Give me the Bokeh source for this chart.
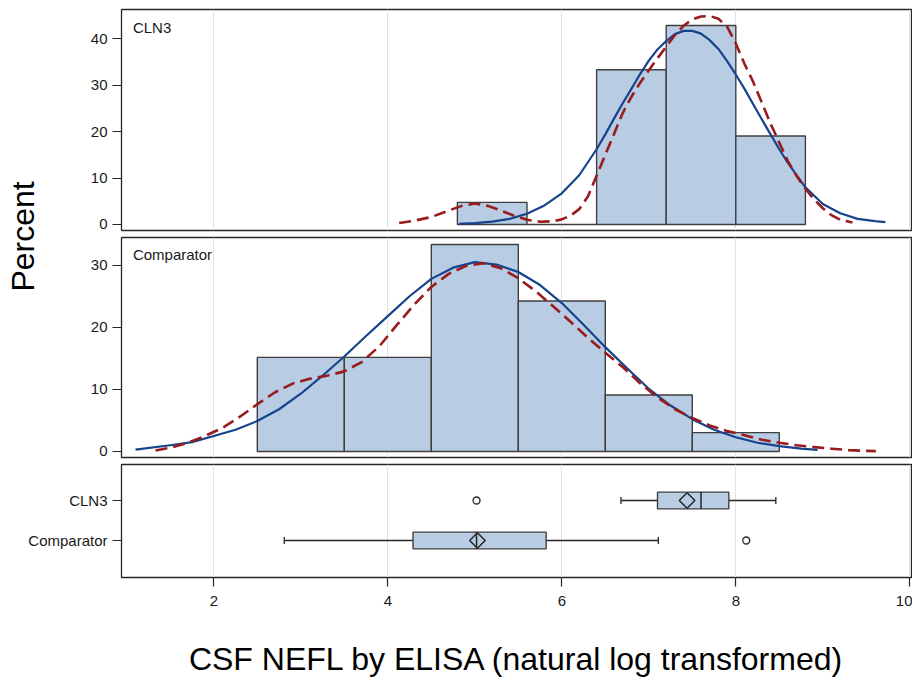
import math
from bokeh.plotting import figure
from bokeh.models import Range1d, FixedTicker, Label
from bokeh.layouts import column, row
from bokeh.embed import file_html
from bokeh.resources import INLINE

# ---------------- data ----------------
x_ticks = [2, 4, 6, 8, 10]

cln3_bin_left = [4.8, 5.6, 6.4, 7.2, 8.0]
cln3_bin_right = [5.6, 6.4, 7.2, 8.0, 8.8]
cln3_pct = [4.76, 0.0, 33.33, 42.86, 19.05]

comp_bin_left = [2.5, 3.5, 4.5, 5.5, 6.5, 7.5]
comp_bin_right = [3.5, 4.5, 5.5, 6.5, 7.5, 8.5]
comp_pct = [15.15, 15.15, 33.33, 24.24, 9.09, 3.03]

# normal fit (solid) and kernel density (dashed)
cln3_norm_x = [4.82, 5.0, 5.2, 5.4, 5.6, 5.8, 6.0, 6.2, 6.4, 6.5, 6.6, 6.7, 6.8, 6.9,
               7.0, 7.1, 7.2, 7.3, 7.4, 7.5, 7.6, 7.7, 7.8, 7.9, 8.0, 8.1, 8.2, 8.3,
               8.4, 8.5, 8.6, 8.8, 9.0, 9.2, 9.4, 9.6, 9.72]
cln3_norm_y = [0.15, 0.3, 0.6, 1.2, 2.3, 4.1, 6.7, 10.6, 16.2, 19.4, 22.8, 26.1, 29.2, 32.4,
               35.3, 37.7, 39.5, 41.0, 41.7, 41.7, 41.1, 39.7, 37.8, 35.2, 32.3, 29.2, 25.9, 22.6,
               19.4, 16.2, 13.2, 8.0, 4.4, 2.4, 1.2, 0.7, 0.5]
cln3_kde_x = [4.13, 4.3, 4.5, 4.7, 4.85, 5.0, 5.15, 5.3, 5.45, 5.6, 5.75, 5.9, 6.0, 6.1,
              6.2, 6.3, 6.4, 6.5, 6.6, 6.7, 6.8, 6.9, 7.0, 7.1, 7.2, 7.3, 7.4, 7.5, 7.6,
              7.7, 7.8, 7.9, 8.0, 8.1, 8.2, 8.3, 8.4, 8.5, 8.6, 8.7, 8.8, 8.9, 9.0, 9.1,
              9.2, 9.34]
cln3_kde_y = [0.3, 0.8, 1.6, 3.0, 4.0, 4.5, 4.0, 3.0, 1.9, 1.0, 0.6, 0.7, 1.1, 1.9,
              3.3, 6.0, 10.5, 15.0, 19.5, 24.0, 27.5, 30.5, 33.2, 35.8, 38.3, 40.8, 42.8,
              44.2, 44.8, 44.9, 44.3, 42.6, 39.0, 34.6, 30.7, 26.2, 21.7, 17.6, 13.6, 10.4,
              7.7, 5.4, 3.5, 2.0, 1.0, 0.4]

comp_norm_x = [1.10, 1.5, 1.75, 2.0, 2.25, 2.5, 2.75, 3.0, 3.25, 3.5, 3.75, 4.0, 4.25,
               4.5, 4.75, 5.0, 5.25, 5.5, 5.75, 6.0, 6.25, 6.5, 6.75, 7.0, 7.25, 7.5,
               7.75, 8.0, 8.25, 8.5, 8.75, 8.94]
comp_norm_y = [0.3, 1.0, 1.5, 2.5, 3.5, 4.9, 6.8, 9.3, 12.2, 15.3, 18.6, 21.8, 25.0,
               27.8, 29.6, 30.5, 30.1, 28.9, 26.8, 23.9, 20.4, 16.8, 13.4, 10.1, 7.4, 5.2,
               3.5, 2.3, 1.4, 0.85, 0.45, 0.27]
comp_kde_x = [1.33, 1.5, 1.7, 1.9, 2.1, 2.3, 2.5, 2.7, 2.9, 3.1, 3.3, 3.5, 3.7, 3.9,
              4.1, 4.3, 4.5, 4.7, 4.9, 5.1, 5.3, 5.5, 5.7, 5.9, 6.1, 6.3, 6.5, 6.7, 6.9,
              7.1, 7.3, 7.5, 7.7, 7.9, 8.1, 8.3, 8.5, 8.7, 8.9, 9.1, 9.3, 9.45, 9.61]
comp_kde_y = [0.16, 0.6, 1.4, 2.5, 3.8, 5.6, 7.6, 9.5, 10.9, 11.7, 12.2, 12.9, 14.4, 16.9,
              20.3, 23.6, 26.5, 28.6, 29.9, 30.3, 29.5, 27.9, 25.8, 23.4, 20.9, 18.3, 15.9,
              13.6, 11.0, 8.7, 6.8, 5.4, 4.2, 3.3, 2.6, 1.9, 1.4, 1.0, 0.7, 0.45, 0.22,
              0.12, 0.05]

# box plot statistics
groups = ["Comparator", "CLN3"]
box_q1 = [4.29, 7.10]
box_median = [5.02, 7.60]
box_q3 = [5.82, 7.92]
box_mean = [5.03, 7.44]
whisker_low = [2.81, 6.68]
whisker_high = [7.11, 8.46]
outlier_x = [8.12, 5.02]
outlier_group = ["Comparator", "CLN3"]

# ---------------- style ----------------
FONT = "Liberation Sans"
GRID = "#e2e2e2"
FILL = "#b8cce4"
EDGE = "#3f3f3f"
BLUE = "#16438c"
RED = "#981b1e"
FRAME = "#262626"
TXT = "#1a1a1a"

XR = Range1d(0.939, 10.031)


def style(p, yticks):
    p.outline_line_color = FRAME
    p.outline_line_width = 1.3
    p.ygrid.visible = False
    p.xgrid.ticker = FixedTicker(ticks=x_ticks)
    p.xgrid.grid_line_color = GRID
    p.xgrid.grid_line_width = 1
    for ax in p.yaxis:
        ax.ticker = FixedTicker(ticks=yticks)
        ax.axis_line_color = None
        ax.major_tick_out = 9
        ax.major_tick_in = 0
        ax.minor_tick_line_color = None
        ax.major_tick_line_color = FRAME
        ax.major_tick_line_width = 1.2
        ax.major_label_text_font = FONT
        ax.major_label_text_font_size = "15px"
        ax.major_label_text_color = TXT
        ax.major_label_standoff = 5


def curves(p, nx, ny, kx, ky):
    p.line(nx, ny, line_color=BLUE, line_width=2.2, line_join="round")
    p.line(kx, ky, line_color=RED, line_width=2.6, line_dash="12 6", line_join="round")


# ---- top panel: CLN3 histogram ----
f1 = figure(width=872, height=233, x_range=XR, y_range=Range1d(-1.3, 46.3),
            x_axis_location=None, toolbar_location=None, output_backend="svg",
            min_border_left=81, min_border_right=0, min_border_top=9, min_border_bottom=3)
style(f1, [0, 10, 20, 30, 40])
f1.quad(left=cln3_bin_left, right=cln3_bin_right, bottom=0, top=cln3_pct,
        fill_color=FILL, line_color=EDGE, line_width=1.4)
curves(f1, cln3_norm_x, cln3_norm_y, cln3_kde_x, cln3_kde_y)
f1.add_layout(Label(x=1.07, y=42.5, text="CLN3", text_font=FONT, text_font_size="15px",
                    text_baseline="middle", text_color=TXT))

# ---- middle panel: Comparator histogram ----
f2 = figure(width=872, height=227, x_range=XR, y_range=Range1d(-0.97, 34.46),
            x_axis_location=None, toolbar_location=None, output_backend="svg",
            min_border_left=81, min_border_right=0, min_border_top=4, min_border_bottom=3)
style(f2, [0, 10, 20, 30])
f2.quad(left=comp_bin_left, right=comp_bin_right, bottom=0, top=comp_pct,
        fill_color=FILL, line_color=EDGE, line_width=1.4)
curves(f2, comp_norm_x, comp_norm_y, comp_kde_x, comp_kde_y)
f2.add_layout(Label(x=1.07, y=31.7, text="Comparator", text_font=FONT, text_font_size="15px",
                    text_baseline="middle", text_color=TXT))

# ---- "Percent" label column ----
lab = figure(width=40, height=460, x_range=Range1d(0, 1), y_range=Range1d(0, 1),
             x_axis_location=None, y_axis_location=None, toolbar_location=None,
             output_backend="svg", min_border=0)
lab.outline_line_color = None
lab.grid.visible = False
lab.add_layout(Label(x=0.5625, y=0.487, text="Percent", angle=math.pi / 2,
                     text_align="center", text_baseline="middle",
                     text_font=FONT, text_font_size="32px", text_color="#000000"))

# ---- bottom panel: box plots ----
ypos = [i + 1 for i in range(len(groups))]
gpos = dict(zip(groups, ypos))
f3 = figure(width=912, height=221, x_range=XR, y_range=Range1d(0.075, 2.9),
            toolbar_location=None, output_backend="svg",
            min_border_left=121, min_border_right=0, min_border_top=4, min_border_bottom=104)
style(f3, ypos)
f3.yaxis.major_label_overrides = {y: g for y, g in zip(ypos, groups)}
xa = f3.xaxis[0]
xa.ticker = FixedTicker(ticks=x_ticks)
xa.axis_line_color = None
xa.major_tick_out = 9
xa.major_tick_in = 0
xa.minor_tick_line_color = None
xa.major_tick_line_color = FRAME
xa.major_tick_line_width = 1.2
xa.major_label_text_font = FONT
xa.major_label_text_font_size = "15px"
xa.major_label_text_color = TXT
xa.major_label_standoff = 9
xa.axis_label = "CSF NEFL by ELISA (natural log transformed)"
xa.axis_label_text_font = FONT
xa.axis_label_text_font_size = "32px"
xa.axis_label_text_font_style = "normal"
xa.axis_label_text_color = "#000000"
xa.axis_label_standoff = 32

half_box = 0.21
half_cap = 0.09
f3.segment(x0=whisker_low, y0=ypos, x1=box_q1, y1=ypos, line_color=FRAME, line_width=1.3)
f3.segment(x0=box_q3, y0=ypos, x1=whisker_high, y1=ypos, line_color=FRAME, line_width=1.3)
f3.segment(x0=whisker_low, y0=[y - half_cap for y in ypos], x1=whisker_low,
           y1=[y + half_cap for y in ypos], line_color=FRAME, line_width=1.3)
f3.segment(x0=whisker_high, y0=[y - half_cap for y in ypos], x1=whisker_high,
           y1=[y + half_cap for y in ypos], line_color=FRAME, line_width=1.3)
f3.hbar(y=ypos, left=box_q1, right=box_q3, height=2 * half_box,
        fill_color=FILL, line_color=EDGE, line_width=1.4)
f3.segment(x0=box_median, y0=[y - half_box for y in ypos], x1=box_median,
           y1=[y + half_box for y in ypos], line_color=FRAME, line_width=1.5)
f3.scatter(x=box_mean, y=ypos, marker="square", angle=math.pi / 4, size=11,
           fill_color=None, line_color=FRAME, line_width=1.5)
f3.scatter(x=outlier_x, y=[gpos[g] for g in outlier_group], marker="circle", size=7,
           fill_color=None, line_color=FRAME, line_width=1.3)

layout = column(row(lab, column(f1, f2)), f3)
open("out.html", "w").write(file_html(layout, INLINE))
